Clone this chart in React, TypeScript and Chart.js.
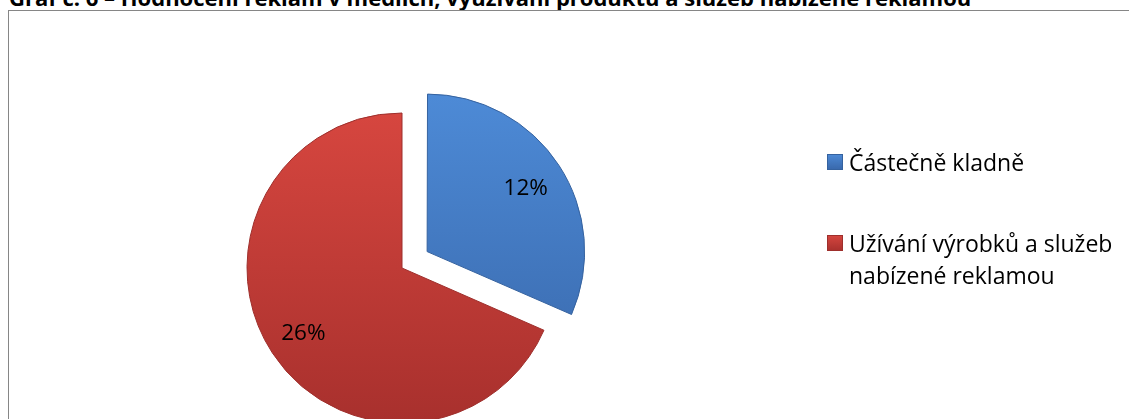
import React, { useEffect, useRef } from "react";
import { Chart, registerables } from "chart.js";

Chart.register(...registerables);

const TITLE = "Graf č. 6 – Hodnocení reklam v médiích, využívání produktů a služeb nabízené reklamou";
const categories = ["Částečně kladně", "Užívání výrobků a služeb nabízené reklamou"];
const legendLines = [["Částečně kladně"], ["Užívání výrobků a služeb", "nabízené reklamou"]];
const values = [12, 26];
const valueLabels = ["12%", "26%"];
const topColors = ["#4d8ad6", "#d6463f"];
const bottomColors = ["#3867aa", "#a8302d"];
const borderColors = ["#35629f", "#9e2f2c"];
// Chart.js draws an arc offset as offset / 4 pixels, so 120 -> 30 px.
const offsets = [120, 0];

const RADIUS = 155;
const W = 1129;
const H = 419;

const labelPlugin = {
  id: "valueLabels",
  afterDatasetsDraw(chart: any) {
    const ctx = chart.ctx;
    const meta = chart.getDatasetMeta(0);
    ctx.save();
    ctx.font = "22.5px 'Open Sans'";
    ctx.fillStyle = "#000";
    ctx.textAlign = "center";
    ctx.textBaseline = "middle";
    meta.data.forEach((arc: any, i: number) => {
      const p = arc.getProps(["x", "y", "startAngle", "endAngle", "outerRadius"], true);
      const mid = (p.startAngle + p.endAngle) / 2;
      const off = (arc.options.offset || 0) / 4;
      const r = off + p.outerRadius * 0.76;
      ctx.fillText(valueLabels[i], p.x + Math.cos(mid) * r, p.y + Math.sin(mid) * r + 1);
    });
    ctx.restore();
  },
};

export default function App() {
  const ref = useRef<HTMLCanvasElement>(null);
  useEffect(() => {
    if (!ref.current) return;
    const makeBg = (i: number) => (c: any) => {
      const chart = c.chart;
      const area = chart.chartArea;
      if (!area) return topColors[i];
      const cy = (area.top + area.bottom) / 2;
      const g = chart.ctx.createLinearGradient(0, cy - RADIUS, 0, cy + RADIUS);
      g.addColorStop(0, topColors[i]);
      g.addColorStop(1, bottomColors[i]);
      return g;
    };
    const chart = new Chart(ref.current, {
      type: "pie",
      data: {
        labels: categories,
        datasets: [
          {
            data: values,
            backgroundColor: (c: any) => makeBg(c.dataIndex)(c),
            borderColor: borderColors,
            borderWidth: 1,
            offset: offsets,
            clip: false as any,
          } as any,
        ],
      },
      options: {
        animation: false,
        responsive: false,
        radius: RADIUS,
        layout: { padding: { left: 100, right: 425, top: 120, bottom: 3 } },
        plugins: {
          legend: { display: false },
          tooltip: { enabled: false },
          title: { display: false },
        },
      } as any,
      plugins: [labelPlugin],
    });
    return () => chart.destroy();
  }, []);

  return (
    <div style={{ position: "fixed", left: 0, top: 0, width: W, height: H, overflow: "hidden", background: "#fff" }}>
      <div
        style={{
          position: "absolute",
          left: 9,
          top: -14,
          whiteSpace: "nowrap",
          font: "bold 22px 'Open Sans'",
          lineHeight: "22px",
          color: "#000",
        }}
      >
        {TITLE}
      </div>
      <div
        style={{
          position: "absolute",
          left: 8,
          top: 10,
          width: 1400,
          height: 800,
          border: "1px solid #868686",
        }}
      />
      <canvas ref={ref} width={W} height={H} style={{ position: "absolute", left: 0, top: 0, width: W, height: H }} />
      <div style={{ position: "absolute", left: 827, top: 0, font: "23px 'Open Sans'", color: "#000" }}>
        {legendLines.map((lines, i) => (
          <div key={i} style={{ position: "absolute", left: 0, top: i === 0 ? 146 : 227, whiteSpace: "nowrap" }}>
            <div
              style={{
                position: "absolute",
                left: 0,
                top: 8,
                width: 16,
                height: 16,
                background: `linear-gradient(${topColors[i]}, ${bottomColors[i]})`,
                boxShadow: `inset 0 0 0 1px ${borderColors[i]}`,
              }}
            />
            <div style={{ position: "absolute", left: 22, top: 0, lineHeight: "32px" }}>
              {lines.map((l, j) => (
                <div key={j}>{l}</div>
              ))}
            </div>
          </div>
        ))}
      </div>
    </div>
  );
}
